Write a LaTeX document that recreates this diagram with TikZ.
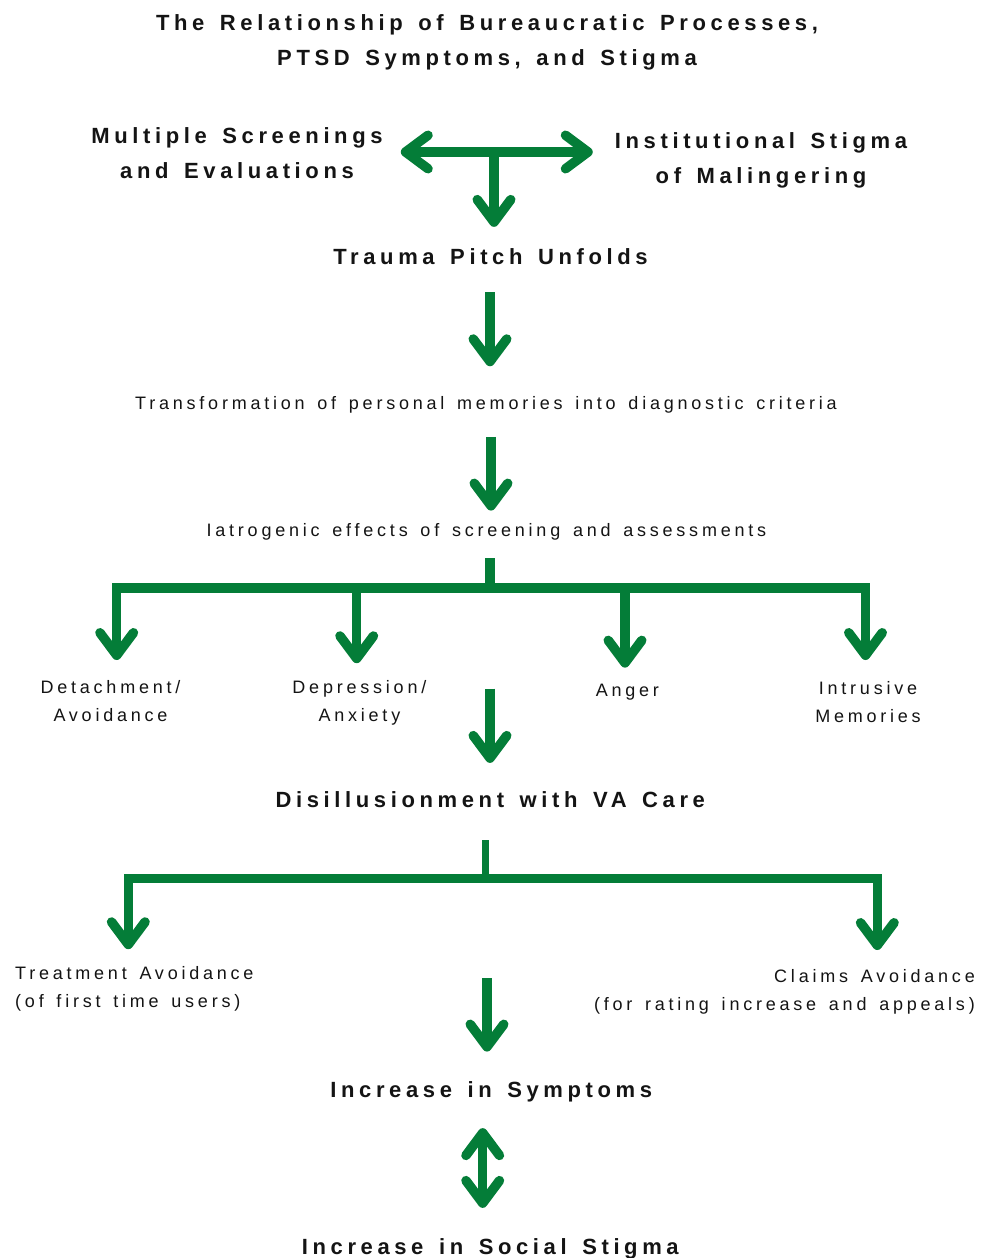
\documentclass[tikz,border=0pt]{standalone}
\usepackage{fontspec}
\setmainfont{Liberation Sans}[LetterSpace=21, WordSpace=1.45]
\usetikzlibrary{arrows.meta}

\definecolor{vagreen}{RGB}{4,125,56}
\definecolor{ink}{RGB}{20,20,20}

% open chevron head with round joins, as thick as the shaft
\pgfdeclarearrow{
  name = Chevron,
  parameters = {\the\pgfarrowlength,\the\pgfarrowwidth,\the\pgfarrowlinewidth},
  setup code = {
    \pgfarrowssettipend{.5\pgfarrowlinewidth}
    \pgfarrowssetlineend{-.5\pgfarrowlinewidth}
    \pgfarrowssetbackend{-\pgfarrowlength}
    \pgfarrowsupperhullpoint{-\pgfarrowlength}{.5\pgfarrowwidth}
    \pgfarrowsupperhullpoint{.5\pgfarrowlinewidth}{0pt}
    \pgfarrowssavethe\pgfarrowlength
    \pgfarrowssavethe\pgfarrowwidth
    \pgfarrowssavethe\pgfarrowlinewidth
  },
  drawing code = {
    \pgfsetlinewidth{\pgfarrowlinewidth}
    \pgfsetroundcap
    \pgfsetroundjoin
    \pgfpathmoveto{\pgfqpoint{-\pgfarrowlength}{.5\pgfarrowwidth}}
    \pgfpathlineto{\pgfpointorigin}
    \pgfpathlineto{\pgfqpoint{-\pgfarrowlength}{-.5\pgfarrowwidth}}
    \pgfusepathqstroke
  },
  defaults = {length=22.5pt, width=33.5pt}
}

\tikzset{
  heading/.style={font=\bfseries\fontsize{22}{35}\selectfont, text=ink, inner sep=0pt, align=center},
  note/.style={font=\fontsize{18}{28}\selectfont, text=ink, inner sep=0pt, align=center},
  barb/.tip={Chevron[length=22.5pt, width=33.5pt, line width=9.5pt]},
  trunk/.style={draw=vagreen, line width=9.5pt},
  flow/.style={trunk, -barb},
  biflow/.style={trunk, barb-barb}
}

\begin{document}
\begin{tikzpicture}[x=1pt, y=-1pt]
  \fill[white] (0,0) rectangle (993,1258);
  \useasboundingbox (0,0) rectangle (993,1258);

  \node[heading, anchor=north] (title) at (487,14) {The Relationship of Bureaucratic Processes,\\PTSD Symptoms, and Stigma};

  \node[heading, anchor=north] (multi) at (237,127.3) {Multiple Screenings\\and Evaluations};
  \node[heading, anchor=north] (inst) at (761,132) {Institutional Stigma\\of Malingering};
  \node[heading, anchor=base] (trauma) at (490.5,264) {Trauma Pitch Unfolds};
  \node[note, anchor=base] (transform) at (486,409.5) {Transformation of personal memories into diagnostic criteria};
  \node[note, anchor=base] (iatro) at (486.4,536.5) {Iatrogenic effects of screening and assessments};

  \node[note, anchor=north] (detach) at (110.5,680.2) {Detachment/\\Avoidance};
  \node[note, anchor=north] (depress) at (359.4,680.2) {Depression/\\Anxiety};
  \node[note, anchor=base] (anger) at (627.4,696.6) {Anger};
  \node[note, anchor=north] (intrus) at (868,681.4) {Intrusive\\Memories};

  \node[heading, anchor=base] (disill) at (490.3,807) {Disillusionment with VA Care};
  \node[note, anchor=north west, align=left] (treat) at (15,966.2) {Treatment Avoidance\\(of first time users)};
  \node[note, anchor=north east, align=right] (claims) at (975,969.6) {Claims Avoidance\\(for rating increase and appeals)};
  \node[heading, anchor=base] (symptoms) at (491.3,1097) {Increase in Symptoms};
  \node[heading, anchor=base] (social) at (490.3,1254) {Increase in Social Stigma};

  % top junction
  \coordinate (meet) at (494,152);
  \draw[biflow, shorten <=18pt, shorten >=22pt] (meet -| multi.east) -- (meet -| inst.west);
  \draw[flow, shorten >=21pt] (meet) -- (meet |- trauma.north);

  \draw[flow, shorten <=28pt, shorten >=30pt] ([xshift=-0.5pt]trauma.south) -- ([xshift=-0.5pt]trauma.south |- transform.north);
  \draw[flow, shorten <=23.4pt, shorten >=12.7pt] ([xshift=5pt]transform.south) -- ([xshift=5pt]transform.south |- iatro.north);

  % first fork
  \coordinate (fork1) at (490,588);
  \draw[trunk, shorten <=18pt] (fork1 |- iatro.south) -- (fork1);
  \draw[flow, shorten >=20.2pt] (fork1) -| ([xshift=6.2pt]detach.north);
  \draw[flow, shorten >=17pt] (fork1) -| ([xshift=-2.7pt]depress.north);
  \draw[flow, shorten >=16.4pt] (fork1) -| ([xshift=-2.4pt]anger.north);
  \draw[flow, shorten >=21.4pt] (fork1) -| ([xshift=-2.5pt]intrus.north);
  \draw[flow, shorten <=4.6pt, shorten >=28pt] (fork1 |- anger.north) -- (fork1 |- disill.north);

  % second fork
  \coordinate (fork2) at (485.3,878.3);
  \draw[trunk, line width=7pt, shorten <=33pt] (fork2 |- disill.south) -- (fork2);
  \draw[flow, shorten >=17pt] (fork2) -| ([xshift=113.3pt]treat.north west);
  \draw[flow, shorten >=19.6pt] (fork2) -| ([xshift=-97.7pt]claims.north east);
  \draw[flow, shorten <=12pt, shorten >=29.3pt] ([xshift=1.7pt]fork2 |- treat.north) -- ([xshift=1.7pt]fork2 |- symptoms.north);

  \draw[biflow, shorten <=26.4pt, shorten >=30pt] ([xshift=-8.6pt]symptoms.south) -- ([xshift=-8.6pt]symptoms.south |- social.north);
\end{tikzpicture}
\end{document}
